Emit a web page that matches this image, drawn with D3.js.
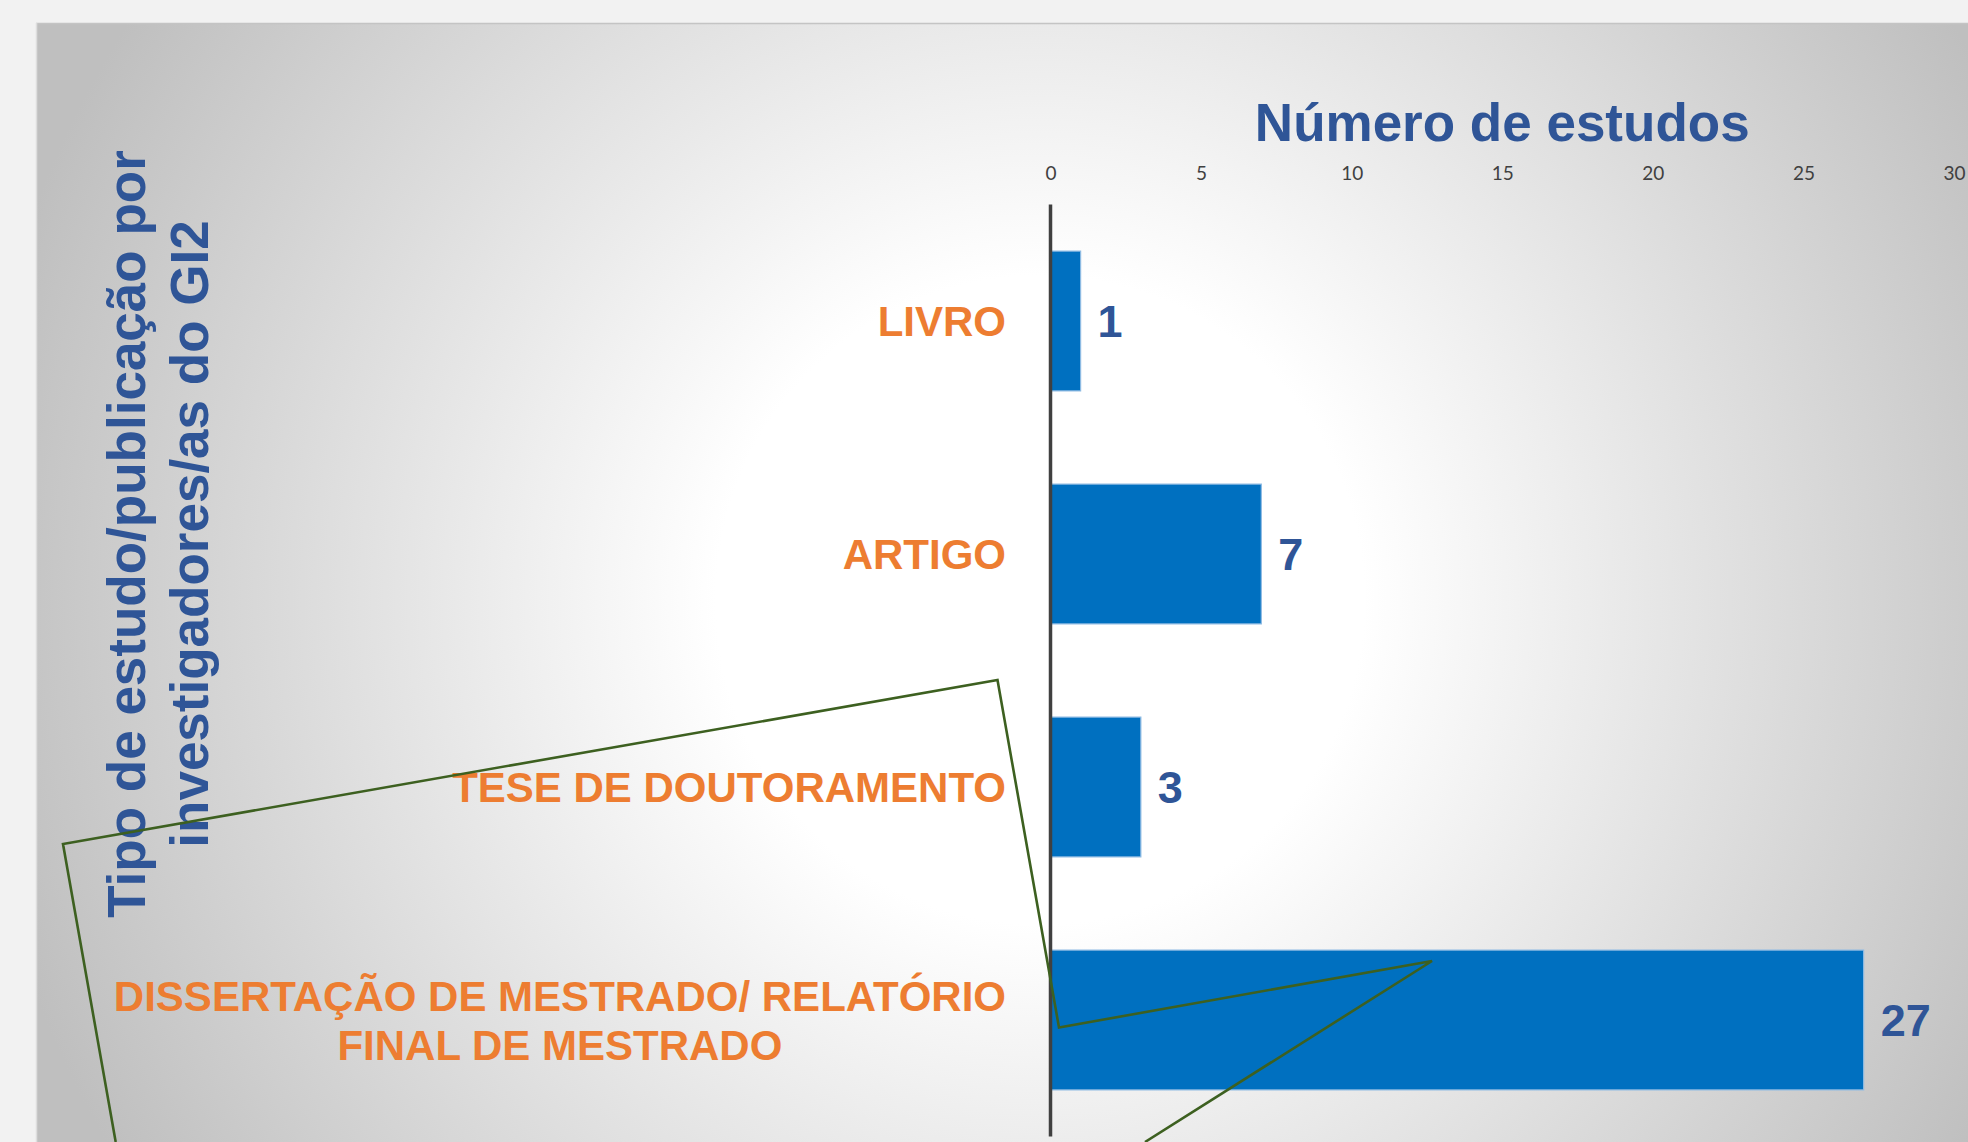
<!DOCTYPE html>
<html><head><meta charset="utf-8">
<script src="https://cdn.jsdelivr.net/npm/d3@7"></script>
<style>html,body{margin:0;padding:0;background:#f2f2f2;overflow:hidden}</style>
</head>
<body><svg id="c" width="1968" height="1142"></svg>
<script>
// ---- data ----
const categories = ["LIVRO", "ARTIGO", "TESE DE DOUTORAMENTO", "DISSERTAÇÃO DE MESTRADO/ RELATÓRIO\nFINAL DE MESTRADO"];
const values = [1, 7, 3, 27];
const xTicks = [0, 5, 10, 15, 20, 25, 30];
const xTitle = "Número de estudos";
const yTitleLines = ["Tipo de estudo/publicação por", "investigadores/as do GI2"];

// ---- layout ----
const W = 1968, H = 1142;
const svg = d3.select("#c");
const defs = svg.append("defs");
const grad = defs.append("radialGradient").attr("id", "bg")
  .attr("gradientUnits", "userSpaceOnUse").attr("cx", 1040).attr("cy", 600).attr("r", 1080);
grad.append("stop").attr("offset", 0).attr("stop-color", "#ffffff");
grad.append("stop").attr("offset", 0.3).attr("stop-color", "#ffffff");
grad.append("stop").attr("offset", 1).attr("stop-color", "#bfbfbf");

svg.append("rect").attr("width", W).attr("height", H).attr("fill", "#f2f2f2");
svg.append("rect").attr("x", 36).attr("y", 23).attr("width", W - 36).attr("height", H - 23).attr("fill", "url(#bg)");
svg.append("line").attr("x1", 36).attr("x2", W).attr("y1", 23.5).attr("y2", 23.5).attr("stroke", "#c4c4c4").attr("stroke-width", 1.5);
svg.append("line").attr("x1", 36.5).attr("x2", 36.5).attr("y1", 23).attr("y2", H).attr("stroke", "#dedede").attr("stroke-width", 1.5);

const x = d3.scaleLinear().domain([0, 30]).range([1050.5, 1954]);
const y = d3.scaleBand().domain(categories).range([204.5, 1136.5]).paddingInner(0.4).paddingOuter(0.2);

const BLUE = "#2f5597", ORANGE = "#ed7d31", BAR = "#0070c0";
const SANS = "'Liberation Sans', Arial, sans-serif";

// top axis
const ax = svg.append("g").attr("transform", "translate(0,186)")
  .call(d3.axisTop(x).tickValues(xTicks).tickSize(0).tickPadding(6));
ax.select(".domain").remove();
ax.selectAll("text").attr("font-family", "Lato, 'Open Sans', sans-serif").attr("font-size", 19).attr("fill", "#404040");

// title
svg.append("text").attr("x", (x.range()[0] + x.range()[1]) / 2).attr("y", 141)
  .attr("text-anchor", "middle").attr("font-family", SANS).attr("font-weight", "bold")
  .attr("font-size", 53).attr("fill", BLUE).text(xTitle);

// bars
const data = categories.map((c, i) => ({c, v: values[i]}));
svg.append("g").selectAll("rect").data(data).join("rect")
  .attr("x", x(0)).attr("y", d => y(d.c))
  .attr("width", d => x(d.v) - x(0)).attr("height", y.bandwidth())
  .attr("fill", BAR).attr("stroke", "#8fbbe3").attr("stroke-width", 1.2);

// vertical axis line
svg.append("line").attr("x1", x(0)).attr("x2", x(0))
  .attr("y1", y.range()[0]).attr("y2", y.range()[1])
  .attr("stroke", "#404040").attr("stroke-width", 3.5);

// value labels
svg.append("g").selectAll("text").data(data).join("text")
  .attr("x", d => x(d.v) + 17).attr("y", d => y(d.c) + y.bandwidth() / 2).attr("dy", "0.36em")
  .attr("font-family", SANS).attr("font-weight", "bold").attr("font-size", 45).attr("fill", BLUE)
  .text(d => d.v);

// category labels
const labelRight = 1006;
const lineH = 49;
const lg = svg.append("g");
data.forEach(d => {
  const lines = d.c.split("\n");
  const cy = y(d.c) + y.bandwidth() / 2;
  const t = lg.append("text").attr("font-family", SANS).attr("font-weight", "bold")
    .attr("font-size", 42).attr("fill", ORANGE).attr("text-anchor", "middle");
  const spans = lines.map((s, i) => t.append("tspan")
    .attr("y", cy + (i - (lines.length - 1) / 2) * lineH).attr("dy", "0.36em").text(s));
  const maxW = d3.max(spans, sp => sp.node().getComputedTextLength());
  spans.forEach(sp => sp.attr("x", labelRight - maxW / 2));
});

// y title (rotated)
const yt = svg.append("text").attr("transform", "translate(145,534) rotate(-90)")
  .attr("text-anchor", "middle").attr("font-family", SANS).attr("font-weight", "bold")
  .attr("font-size", 53).attr("fill", BLUE);
yTitleLines.forEach((s, i) => yt.append("tspan").attr("x", 0).attr("y", i * 63).text(s));

// decorative annotation outline (green shape drawn over the slide)
const outline = [[115.7, 1142], [63, 844], [997.5, 680], [1059, 1027.5], [1432, 961], [1145, 1142]];
svg.append("path").attr("d", d3.line()(outline)).attr("fill", "none")
  .attr("stroke", "#3d6020").attr("stroke-width", 2.6).attr("stroke-linejoin", "miter");
</script>
</body></html>
